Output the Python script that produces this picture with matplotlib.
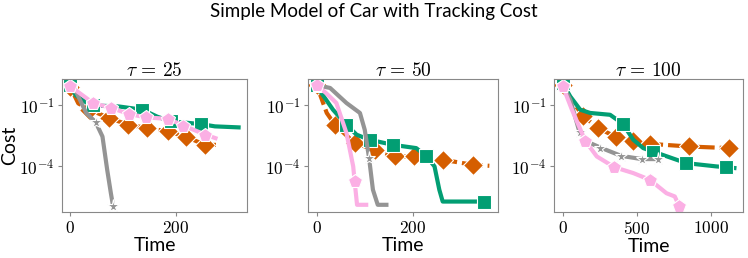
import numpy as np
import matplotlib
matplotlib.use("Agg")
import matplotlib.pyplot as plt
from matplotlib.ticker import NullLocator, FixedLocator, FixedFormatter

plt.rcParams['mathtext.fontset'] = 'cm'
plt.rcParams['font.family'] = ['Lato', 'DejaVu Sans']

taus = [25, 50, 100]
series_names = ["green", "orange", "gray", "pink"]

# ---- tau = 25 (log10 of cost) ----
t25_green_x = [0, 10, 30, 43, 92, 137, 165, 191, 220, 249, 275, 320]
t25_green_y = [0.0, -0.5, -0.85, -1.0, -1.05, -1.21, -1.55, -1.79, -1.85, -1.92, -2.03, -2.08]
t25_green_m = [0, 3, 5, 7, 9]
t25_orange_x = [0, 15, 36, 74, 110, 146, 185, 219, 256, 277]
t25_orange_y = [-0.1, -0.9, -1.21, -1.62, -1.95, -2.11, -2.28, -2.53, -2.94, -2.94]
t25_orange_m = [0, 2, 3, 4, 5, 6, 7, 8]
t25_gray_x = [0, 12, 30, 48, 61, 70, 77, 81]
t25_gray_y = [0.0, -0.39, -1.37, -1.82, -2.53, -4.17, -5.32, -5.93]
t25_gray_m = [0, 3, 7]
t25_pink_x = [0, 43, 78, 112, 144, 186, 215, 257, 276]
t25_pink_y = [-0.06, -0.88, -1.13, -1.42, -1.59, -1.66, -1.99, -2.44, -2.61]
t25_pink_m = [0, 1, 2, 3, 4, 5, 6, 7]

# ---- tau = 50 ----
t50_green_x = [0, 10, 34, 62, 83, 110, 159, 207, 228, 245, 255, 262, 348, 359]
t50_green_y = [0.0, -0.39, -1.21, -1.95, -2.44, -2.69, -2.94, -3.10, -3.51, -4.0, -5.15, -5.73, -5.73, -5.73]
t50_green_m = [0, 3, 5, 6, 8, 12]
t50_orange_x = [0, 21, 38, 79, 121, 162, 203, 262, 324, 359]
t50_orange_y = [0.0, -1.37, -1.95, -2.85, -3.18, -3.51, -3.51, -3.67, -3.92, -3.97]
t50_orange_m = [0, 2, 3, 4, 5, 6, 7, 8]
t50_gray_x = [0, 28, 62, 90, 100, 109, 117, 127, 145]
t50_gray_y = [0.0, -0.14, -0.88, -1.37, -2.2, -3.59, -5.15, -5.89, -5.89]
t50_gray_m = [0, 5]
t50_pink_x = [0, 20, 41, 62, 76, 79, 84, 103]
t50_pink_y = [0.0, -0.4, -0.88, -2.36, -4.0, -4.74, -5.89, -5.89]
t50_pink_m = [0, 5]

# ---- tau = 100 ----
t100_green_x = [0, 52, 119, 186, 321, 406, 478, 545, 612, 769, 837, 1038, 1106, 1161]
t100_green_y = [0.1, -0.56, -1.21, -1.37, -1.46, -1.90, -2.69, -3.10, -3.27, -3.67, -3.84, -4.0, -4.04, -4.08]
t100_green_m = [0, 5, 8, 10, 12]
t100_orange_x = [0, 74, 141, 242, 361, 478, 590, 852, 1123]
t100_orange_y = [0.0, -0.88, -1.54, -2.11, -2.56, -2.77, -2.89, -3.02, -3.10]
t100_orange_m = [0, 2, 3, 4, 5, 6, 7, 8]
t100_gray_x = [0, 52, 115, 186, 254, 395, 534, 646]
t100_gray_y = [0.0, -0.72, -2.33, -2.85, -3.07, -3.48, -3.64, -3.64]
t100_gray_m = [0, 2, 4, 5, 6, 7]
t100_pink_x = [0, 63, 153, 231, 350, 478, 590, 702, 758, 787]
t100_pink_y = [-0.03, -1.21, -2.74, -3.51, -4.04, -4.33, -4.66, -5.32, -5.48, -5.94]
t100_pink_m = [0, 2, 4, 6, 9]

xticks = [[0, 200], [0, 200], [0, 500, 1000]]
xtick_labels = [[r'$0$', r'$200$'], [r'$0$', r'$200$'], [r'$0$', r'$500$', r'$1000$']]
yticks = [1e-1, 1e-4]
ytick_labels = [r'$10^{-1}$', r'$10^{-4}$']

data = {
    25: {"green": (t25_green_x, t25_green_y, t25_green_m),
         "orange": (t25_orange_x, t25_orange_y, t25_orange_m),
         "gray": (t25_gray_x, t25_gray_y, t25_gray_m),
         "pink": (t25_pink_x, t25_pink_y, t25_pink_m)},
    50: {"green": (t50_green_x, t50_green_y, t50_green_m),
         "orange": (t50_orange_x, t50_orange_y, t50_orange_m),
         "gray": (t50_gray_x, t50_gray_y, t50_gray_m),
         "pink": (t50_pink_x, t50_pink_y, t50_pink_m)},
    100: {"green": (t100_green_x, t100_green_y, t100_green_m),
          "orange": (t100_orange_x, t100_orange_y, t100_orange_m),
          "gray": (t100_gray_x, t100_gray_y, t100_gray_m),
          "pink": (t100_pink_x, t100_pink_y, t100_pink_m)},
}

styles = {
    "orange": dict(color="#d55e00", marker="D", ls=(0, (5, 1.2)), ms=10),
    "green": dict(color="#029e73", marker="s", ls="-", ms=9.5),
    "gray": dict(color="#949494", marker="*", ls="-", ms=9.5),
    "pink": dict(color="#fbafe4", marker="p", ls="-", ms=10.5),
}
order = ["orange", "green", "gray", "pink"]

W, H = 748, 258
fig = plt.figure(figsize=(W / 100, H / 100), dpi=100)
lefts = [62, 308, 554]
widths = [185, 190, 189]
bottom, top = 212, 79

for i, tau in enumerate(taus):
    ax = fig.add_axes([lefts[i] / W, (H - bottom) / H, widths[i] / W, (bottom - top) / H])
    for name in order:
        x, ly, m = data[tau][name]
        st = styles[name]
        ax.plot(x, np.power(10.0, ly), color=st["color"], ls=st["ls"], lw=3.0,
                marker=st["marker"], ms=st["ms"], markevery=m,
                markeredgecolor="white", markeredgewidth=0.8)
    ax.set_yscale("log")
    ax.set_ylim(5.7e-7, 2.0)
    ax.yaxis.set_major_locator(FixedLocator(yticks))
    ax.yaxis.set_major_formatter(FixedFormatter(ytick_labels))
    ax.yaxis.set_minor_locator(NullLocator())
    ax.xaxis.set_major_locator(FixedLocator(xticks[i]))
    ax.xaxis.set_major_formatter(FixedFormatter(xtick_labels[i]))
    ax.tick_params(labelsize=12.5, color="#888888", length=3, pad=2.5)
    for s in ax.spines.values():
        s.set_color("#888888")
    ax.set_title(r'$\tau\,=\,%d$' % tau, fontsize=14, pad=2)
    ax.set_xlabel("Time", fontsize=14, labelpad=1)
    if i == 0:
        ax.set_ylabel("Cost", fontsize=14, labelpad=1)

fig.suptitle("Simple Model of Car with Tracking Cost", fontsize=13.5, y=0.99)
fig.savefig("out.png", dpi=100)
